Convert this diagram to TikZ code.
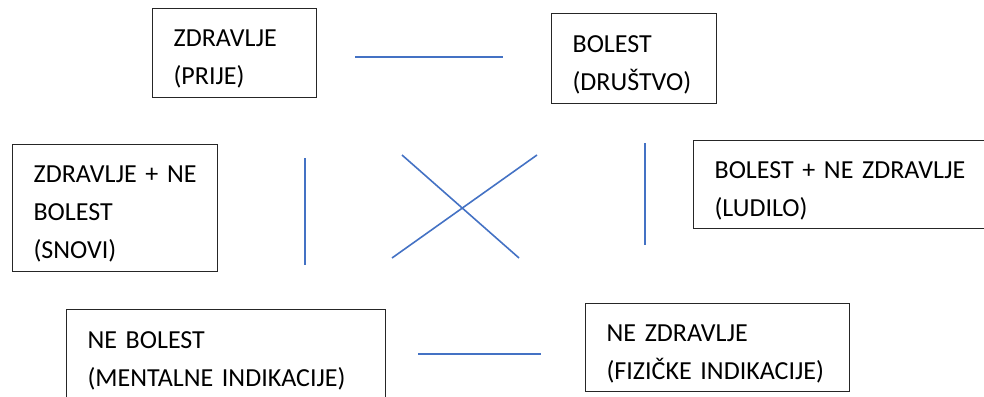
\documentclass[tikz,border=0pt]{standalone}
\usepackage{fontspec}
\setmainfont{Carlito}
\usepackage{tikz}
\usetikzlibrary{positioning}
\definecolor{linkblue}{HTML}{4472C4}

\begin{document}
\begin{tikzpicture}[x=1pt, y=-1pt, every edge/.style={draw=linkblue, line width=1.6pt},
                    box/.style={draw=black!85, line width=1.2pt, anchor=north west, align=left,
                                inner xsep=21pt, inner ysep=0pt, font=\fontsize{26}{38}\selectfont,
                                execute at begin node={\rule{0pt}{29pt}}}]
\useasboundingbox (0,0) rectangle (984,396);

\node[box, text width=122pt, minimum height=89pt] (zdr) at (152,8) {ZDRAVLJE\\(PRIJE)};
\node[box, text width=123pt, minimum height=90pt] (bol) at (551,13) {BOLEST\\(DRUŠTVO)};
\node[box, text width=163pt, minimum height=127pt] (snovi) at (12,144) {ZDRAVLJE + NE\\BOLEST\\(SNOVI)};
\node[box, text width=258pt, minimum height=88pt] (ludilo) at (693,140) {BOLEST + NE ZDRAVLJE\\(LUDILO)};
\node[box, text width=277pt, minimum height=90pt] (nebol) at (66,309) {NE BOLEST\\(MENTALNE INDIKACIJE)};
\node[box, text width=222pt, minimum height=88pt] (nezdr) at (585,303) {NE ZDRAVLJE\\(FIZIČKE INDIKACIJE)};

% free line ends
\coordinate (t1) at (355,57);   \coordinate (t2) at (503,57);
\coordinate (b1) at (418,354);  \coordinate (b2) at (541,354);
\coordinate (l1) at (305,158);  \coordinate (l2) at (305,265);
\coordinate (r1) at (645,143);  \coordinate (r2) at (645,245);
\coordinate (x1) at (402,155);  \coordinate (x2) at (519,258);
\coordinate (x3) at (537,155);  \coordinate (x4) at (392,258);

\path
(t1) edge (t2)
(b1) edge (b2)
(l1) edge (l2)
(r1) edge (r2)
(x1) edge (x2)
(x3) edge (x4);
\end{tikzpicture}
\end{document}
